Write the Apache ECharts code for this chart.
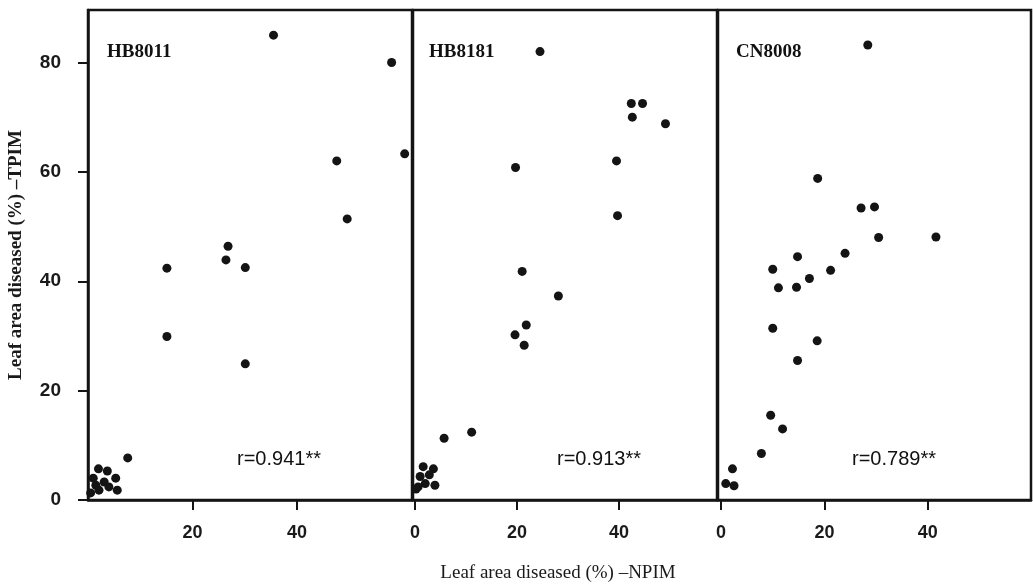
<!DOCTYPE html>
<html>
<head>
<meta charset="utf-8">
<script src="https://cdn.jsdelivr.net/npm/echarts@6/dist/echarts.min.js"></script>
<style>
html, body { margin: 0; padding: 0; background: #fff; }
#chart { width: 1033px; height: 587px; }
</style>
</head>
<body>
<div id="chart"></div>
<script>
// cultivars and correlation coefficients
var panelNames = ['HB8011', 'HB8181', 'CN8008'];
var rValues = ['r=0.941**', 'r=0.913**', 'r=0.789**'];

// [NPIM, TPIM] leaf area diseased (%)
var hb8011 = [
    [35.5, 85.0], [58.1, 80.0], [60.6, 63.3], [47.6, 62.0], [49.6, 51.4],
    [26.8, 46.4], [26.4, 43.9], [30.1, 42.5], [15.1, 42.4], [15.1, 29.9],
    [30.1, 24.9], [7.6, 7.7],
    [2.0, 5.7], [3.7, 5.3], [1.0, 4.0], [5.3, 4.0], [3.1, 3.3],
    [1.5, 2.7], [4.0, 2.4], [5.6, 1.8], [2.1, 1.8], [0.5, 1.3]
];
var hb8181 = [
    [24.5, 82.0], [42.4, 72.5], [44.6, 72.5], [42.6, 70.0], [49.1, 68.8],
    [39.5, 62.0], [19.7, 60.8], [39.7, 52.0], [21.0, 41.8], [28.1, 37.3],
    [21.8, 32.0], [19.6, 30.2], [21.4, 28.3], [11.1, 12.4], [5.7, 11.3],
    [1.6, 6.1], [3.6, 5.7], [1.0, 4.3], [2.8, 4.6], [2.0, 3.0],
    [3.9, 2.7], [0.6, 2.4], [0.2, 2.0]
];
var cn8008 = [
    [28.4, 83.2], [18.7, 58.8], [27.1, 53.4], [29.7, 53.6], [30.5, 48.0],
    [41.6, 48.1], [24.0, 45.1], [14.8, 44.5], [10.0, 42.2], [21.2, 42.0],
    [17.1, 40.5], [11.1, 38.8], [14.6, 38.9], [10.0, 31.4], [18.6, 29.1],
    [14.8, 25.5], [9.6, 15.5], [11.9, 13.0], [7.8, 8.5], [2.2, 5.7],
    [0.9, 3.0], [2.5, 2.6]
];

var xTicks = [[20, 40], [0, 20, 40], [0, 20, 40]];
var yTicks = [0, 20, 40, 60, 80];

var panelData = [hb8011, hb8181, cn8008];

var myChart = echarts.init(document.getElementById('chart'));
var ink = '#141414';
var grids = [
    {left: 88, top: 10, width: 324, height: 490},
    {left: 413, top: 10, width: 304, height: 490},
    {left: 718, top: 10, width: 313, height: 490}
];
var xRange = [[0, 62], [-0.4, 59.2], [-0.6, 60]];

var xAxes = [], yAxes = [], series = [], titles = [];
for (var i = 0; i < 3; i++) {
    grids[i].show = true;
    grids[i].borderColor = ink;
    grids[i].borderWidth = 2.5;
    xAxes.push({
        type: 'value',
        gridIndex: i,
        min: xRange[i][0],
        max: xRange[i][1],
        splitLine: {show: false},
        axisLine: {show: true, lineStyle: {color: ink, width: 2.5}},
        axisTick: {show: true, inside: false, length: 10, lineStyle: {color: ink, width: 2}, customValues: xTicks[i]},
        axisLabel: {
            color: '#1a1a1a', fontSize: 18, fontFamily: 'Liberation Sans', fontWeight: 600,
            margin: 24, customValues: xTicks[i]
        }
    });
    yAxes.push({
        type: 'value',
        gridIndex: i,
        min: 0,
        max: 89.6,
        show: i === 0,
        splitLine: {show: false},
        axisLine: {show: true, lineStyle: {color: ink, width: 2.5}},
        axisTick: {show: true, inside: false, length: 10, lineStyle: {color: ink, width: 2}, customValues: yTicks},
        axisLabel: {
            color: '#1a1a1a', fontSize: 19, fontFamily: 'Liberation Sans', fontWeight: 'bold',
            margin: 27, customValues: yTicks
        },
        name: i === 0 ? 'Leaf area diseased (%) \u2013TPIM' : '',
        nameLocation: 'middle',
        nameGap: 62,
        nameTextStyle: {color: '#1a1a1a', fontSize: 19, fontFamily: 'Liberation Serif', fontWeight: 'bold'}
    });
    series.push({
        type: 'scatter',
        xAxisIndex: i,
        yAxisIndex: i,
        data: panelData[i],
        symbolSize: 9,
        itemStyle: {color: ink, opacity: 1},
        silent: true
    });
}

var nameLeft = [107, 429, 736];
var rLeft = [237, 557, 852];
for (var j = 0; j < 3; j++) {
    titles.push({
        text: panelNames[j], left: nameLeft[j], top: 43, padding: 0,
        textStyle: {color: '#111', fontSize: 19, fontFamily: 'Liberation Serif', fontWeight: 'bold'}
    });
    titles.push({
        text: rValues[j], left: rLeft[j], top: 449, padding: 0,
        textStyle: {color: '#111', fontSize: 20, fontFamily: 'Liberation Sans', fontWeight: 'normal'}
    });
}
// x axis title, centred under the middle panel
titles.push({
    text: 'Leaf area diseased (%) \u2013NPIM', left: 558, top: 564, textAlign: 'center', padding: 0,
    textStyle: {color: '#1a1a1a', fontSize: 19, fontFamily: 'Liberation Serif', fontWeight: 'normal'}
});

var option = {
    backgroundColor: '#fff',
    animation: false,
    title: titles,
    grid: grids,
    xAxis: xAxes,
    yAxis: yAxes,
    series: series
};
myChart.setOption(option);
</script>
</body>
</html>
